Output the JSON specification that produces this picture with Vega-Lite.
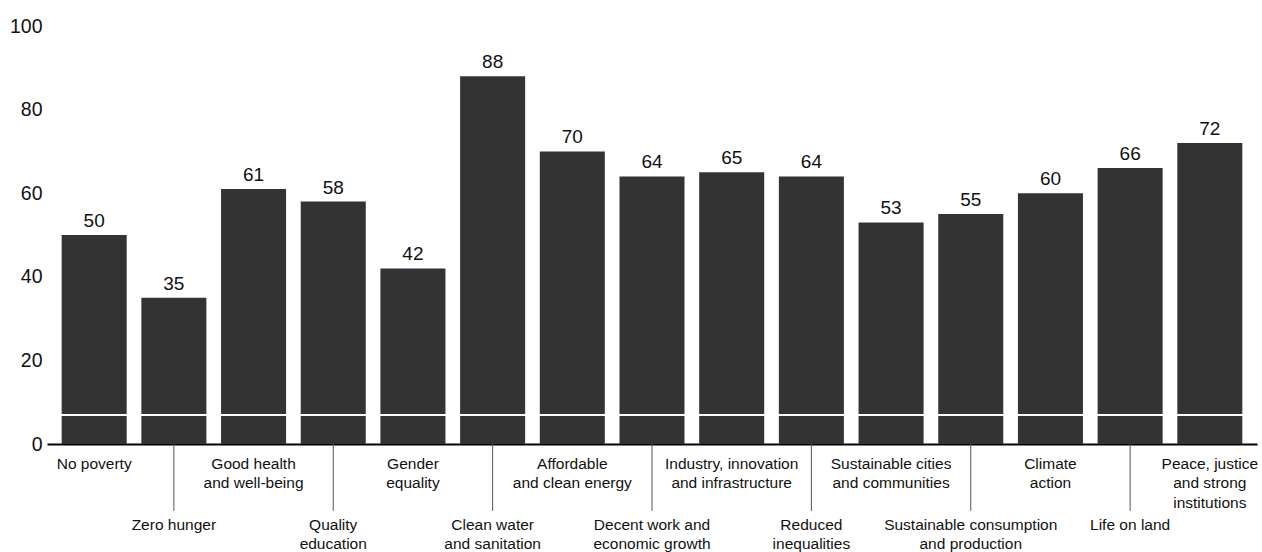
{
  "$schema": "https://vega.github.io/schema/vega-lite/v6.json",
  "width": 1210,
  "height": 418,
  "autosize": {"type": "none"},
  "padding": {"left": 47, "top": 26, "right": 5, "bottom": 108},
  "background": "white",
  "config": {
    "view": {"stroke": null},
    "font": "Liberation Sans",
    "text": {"font": "Liberation Sans"}
  },
  "data": {
    "values": [
      {"cat": "No poverty", "label": "No poverty", "value": 50, "row": "upper"},
      {"cat": "Zero hunger", "label": "Zero hunger", "value": 35, "row": "lower"},
      {"cat": "Good health", "label": "Good health\nand well-being", "value": 61, "row": "upper"},
      {"cat": "Quality education", "label": "Quality\neducation", "value": 58, "row": "lower"},
      {"cat": "Gender equality", "label": "Gender\nequality", "value": 42, "row": "upper"},
      {"cat": "Clean water", "label": "Clean water\nand sanitation", "value": 88, "row": "lower"},
      {"cat": "Affordable energy", "label": "Affordable\nand clean energy", "value": 70, "row": "upper"},
      {"cat": "Decent work", "label": "Decent work and\neconomic growth", "value": 64, "row": "lower"},
      {"cat": "Industry", "label": "Industry, innovation\nand infrastructure", "value": 65, "row": "upper"},
      {"cat": "Reduced inequalities", "label": "Reduced\ninequalities", "value": 64, "row": "lower"},
      {"cat": "Sustainable cities", "label": "Sustainable cities\nand communities", "value": 53, "row": "upper"},
      {"cat": "Sustainable consumption", "label": "Sustainable consumption\nand production", "value": 55, "row": "lower"},
      {"cat": "Climate action", "label": "Climate\naction", "value": 60, "row": "upper"},
      {"cat": "Life on land", "label": "Life on land", "value": 66, "row": "lower"},
      {"cat": "Peace", "label": "Peace, justice\nand strong\ninstitutions", "value": 72, "row": "upper"}
    ]
  },
  "encoding": {
    "x": {
      "field": "cat",
      "type": "nominal",
      "sort": null,
      "scale": {"paddingInner": 0.184, "paddingOuter": 0.184},
      "axis": {
        "title": null,
        "labels": false,
        "ticks": false,
        "domain": true,
        "domainColor": "#000000",
        "domainWidth": 2,
        "grid": false
      }
    }
  },
  "layer": [
    {
      "mark": {"type": "bar", "color": "#333333"},
      "encoding": {
        "y": {
          "field": "value",
          "type": "quantitative",
          "scale": {"domain": [0, 100], "nice": false, "zero": true},
          "axis": {
            "title": null,
            "values": [0, 20, 40, 60, 80, 100],
            "domain": false,
            "ticks": false,
            "tickSize": 0,
            "grid": false,
            "labelPadding": 5,
            "labelFontSize": 19.5,
            "labelColor": "#111111",
            "labelFont": "Liberation Sans"
          }
        }
      }
    },
    {
      "mark": {"type": "rule", "color": "#ffffff", "strokeWidth": 1},
      "encoding": {"x": null, "y": {"datum": 7, "type": "quantitative"}}
    },
    {
      "mark": {"type": "text", "baseline": "alphabetic", "align": "center", "dy": -8, "fontSize": 19, "color": "#111111"},
      "encoding": {
        "y": {"field": "value", "type": "quantitative"},
        "text": {"field": "value", "type": "quantitative"}
      }
    },
    {
      "transform": [{"filter": "datum.row === 'upper'"}],
      "mark": {"type": "text", "baseline": "top", "align": "center", "fontSize": 15.5, "lineHeight": 19.5, "lineBreak": "\n", "color": "#111111"},
      "encoding": {
        "y": {"datum": -3, "type": "quantitative"},
        "text": {"field": "label", "type": "nominal"}
      }
    },
    {
      "transform": [{"filter": "datum.row === 'lower'"}],
      "mark": {"type": "rule", "color": "#555555", "strokeWidth": 1},
      "encoding": {
        "y": {"datum": 0, "type": "quantitative"},
        "y2": {"datum": -16}
      }
    },
    {
      "transform": [{"filter": "datum.row === 'lower'"}],
      "mark": {"type": "text", "baseline": "top", "align": "center", "fontSize": 15.5, "lineHeight": 19.5, "lineBreak": "\n", "color": "#111111"},
      "encoding": {
        "y": {"datum": -17.7, "type": "quantitative"},
        "text": {"field": "label", "type": "nominal"}
      }
    }
  ]
}
